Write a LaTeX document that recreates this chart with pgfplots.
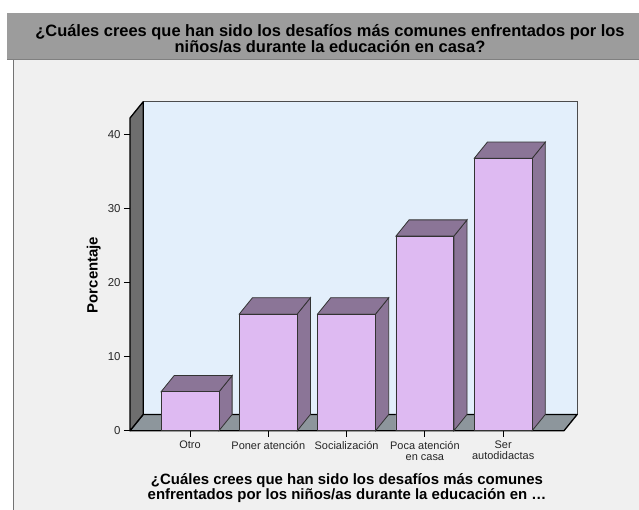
\documentclass[border=0pt]{standalone}
\usepackage{fontspec}
\setmainfont{Liberation Sans}
\usepackage{pgfplots}
\usepackage{pgfplotstable}
\pgfplotsset{compat=1.18}
\definecolor{barfront}{RGB}{222,186,242}
\definecolor{barside}{RGB}{139,117,151}
\definecolor{backwall}{RGB}{227,239,251}
\definecolor{floorc}{RGB}{141,150,156}
\definecolor{leftwall}{RGB}{110,110,110}
\definecolor{bg}{RGB}{240,240,240}
\definecolor{band}{RGB}{156,156,156}

\pgfplotstableread{
x y
0 5.26
1 15.79
2 15.79
3 26.32
4 36.84
}\datatable

\begin{document}
\begin{tikzpicture}[x=1bp,y=1bp]
\useasboundingbox (0,0) rectangle (639,510);
\fill[white] (0,0) rectangle (639,510);
\fill[bg] (13,0) rectangle (639,450);
\draw[black!55, line width=1bp] (13.5,0) -- (13.5,450);
\fill[band] (7,450) rectangle (639,497);
\draw[black!50, line width=1bp] (7,450.5) -- (639,450.5);
\node[anchor=base, inner sep=0pt, font=\fontsize{16.5}{16.5}\selectfont\bfseries] at (330,473) {¿Cuáles crees que han sido los desafíos más comunes enfrentados por los};
\node[anchor=base, inner sep=0pt, font=\fontsize{16.5}{16.5}\selectfont\bfseries] at (330,457.5) {niños/as durante la educación en casa?};

\begin{axis}[
  at={(190bp,79.3bp)}, anchor=origin,
  scale only axis, width=434bp, height=312.7bp,
  xmin=-0.766, xmax=4.777, ymin=0, ymax=42.3,
  clip=false,
  axis line style={black, line width=1bp},
  xtick={0,1,2,3,4},
  xticklabels={Otro,Poner atención,Socialización,{Poca atención\\en casa},{Ser\\autodidactas}},
  ytick={0,10,20,30,40},
  xtick pos=bottom, ytick pos=left,
  tick align=outside,
  major tick length=6bp,
  tick style={draw=black, line width=1bp},
  xticklabel style={align=center, font=\fontsize{11}{11}\selectfont, text=black!85, yshift=-1bp},
  yticklabel style={font=\fontsize{11.5}{11.5}\selectfont, text=black!85},
  /pgf/number format/assume math mode=true,
]
% back wall
\addplot[fill=backwall, draw=black!70, line width=1.3bp] coordinates {(-0.598,2.2) (4.945,2.2) (4.945,44.5) (-0.598,44.5)} -- cycle;
% floor
\addplot[fill=floorc, draw=black, line width=1.3bp, line join=round] coordinates {(-0.766,0) (4.777,0) (4.945,2.2) (-0.598,2.2)} -- cycle;
% left wall
\addplot[fill=leftwall, draw=black, line width=1.3bp, line join=round] coordinates {(-0.766,0) (-0.766,42.3) (-0.598,44.5) (-0.598,2.2)} -- cycle;

% tick marks
\addplot[black, line width=1bp] coordinates {(-0.843,0) (-0.766,0)};
\addplot[black, line width=1bp] coordinates {(-0.843,10) (-0.766,10)};
\addplot[black, line width=1bp] coordinates {(-0.843,20) (-0.766,20)};
\addplot[black, line width=1bp] coordinates {(-0.843,30) (-0.766,30)};
\addplot[black, line width=1bp] coordinates {(-0.843,40) (-0.766,40)};
\addplot[black, line width=1bp] coordinates {(0,0) (0,-0.85)};
\addplot[black, line width=1bp] coordinates {(1,0) (1,-0.85)};
\addplot[black, line width=1bp] coordinates {(2,0) (2,-0.85)};
\addplot[black, line width=1bp] coordinates {(3,0) (3,-0.85)};
\addplot[black, line width=1bp] coordinates {(4,0) (4,-0.85)};

% bar sides and tops
\addplot[fill=barside, draw=black!80, line width=0.8bp] coordinates {(0.37,0) (0.538,2.2) (0.538,7.46) (0.37,5.26)} -- cycle;
\addplot[fill=barside, draw=black!80, line width=0.8bp] coordinates {(-0.37,5.26) (0.37,5.26) (0.538,7.46) (-0.202,7.46)} -- cycle;
\addplot[fill=barside, draw=black!80, line width=0.8bp] coordinates {(1.37,0) (1.538,2.2) (1.538,17.99) (1.37,15.79)} -- cycle;
\addplot[fill=barside, draw=black!80, line width=0.8bp] coordinates {(0.63,15.79) (1.37,15.79) (1.538,17.99) (0.798,17.99)} -- cycle;
\addplot[fill=barside, draw=black!80, line width=0.8bp] coordinates {(2.37,0) (2.538,2.2) (2.538,17.99) (2.37,15.79)} -- cycle;
\addplot[fill=barside, draw=black!80, line width=0.8bp] coordinates {(1.63,15.79) (2.37,15.79) (2.538,17.99) (1.798,17.99)} -- cycle;
\addplot[fill=barside, draw=black!80, line width=0.8bp] coordinates {(3.37,0) (3.538,2.2) (3.538,28.52) (3.37,26.32)} -- cycle;
\addplot[fill=barside, draw=black!80, line width=0.8bp] coordinates {(2.63,26.32) (3.37,26.32) (3.538,28.52) (2.798,28.52)} -- cycle;
\addplot[fill=barside, draw=black!80, line width=0.8bp] coordinates {(4.37,0) (4.538,2.2) (4.538,39.04) (4.37,36.84)} -- cycle;
\addplot[fill=barside, draw=black!80, line width=0.8bp] coordinates {(3.63,36.84) (4.37,36.84) (4.538,39.04) (3.798,39.04)} -- cycle;

% bar fronts
\addplot[ybar, bar width=0.74, fill=barfront, draw=black!80, line width=0.8bp] table[x=x, y=y] {\datatable};
\end{axis}

\node[rotate=90, anchor=base, inner sep=0pt, font=\fontsize{15}{15}\selectfont\bfseries] at (97.5,235) {Porcentaje};
\node[anchor=base, inner sep=0pt, font=\fontsize{15}{15}\selectfont\bfseries] at (347,25) {¿Cuáles crees que han sido los desafíos más comunes};
\node[anchor=base, inner sep=0pt, font=\fontsize{15}{15}\selectfont\bfseries] at (347,10) {enfrentados por los niños/as durante la educación en …};
\end{tikzpicture}
\end{document}
